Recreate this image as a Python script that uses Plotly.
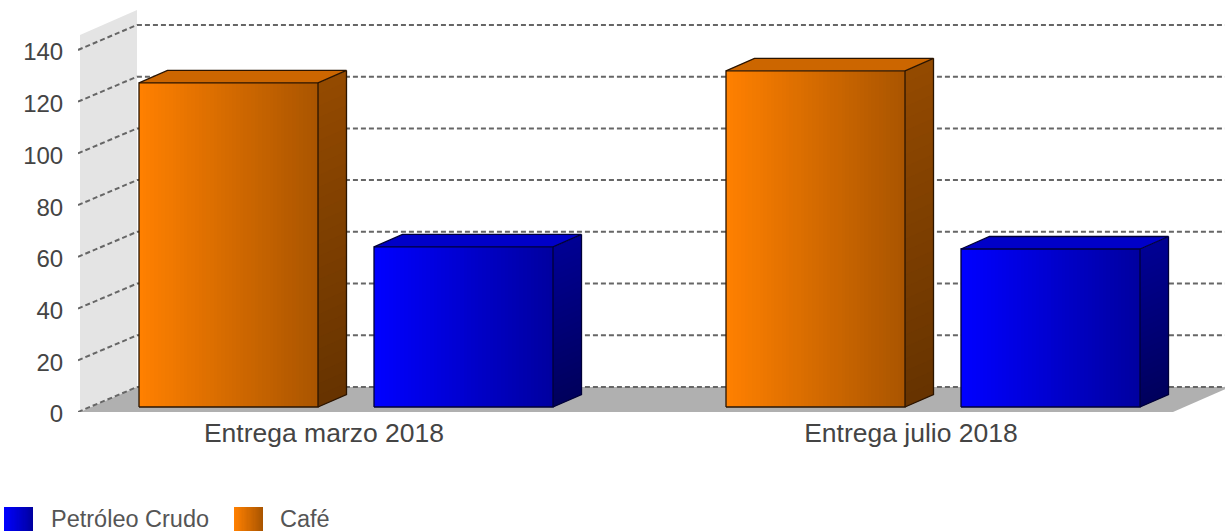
import plotly.graph_objects as go

categories = ["Entrega marzo 2018", "Entrega julio 2018"]
cafe = [125.3, 130.0]
petroleo = [61.9, 61.1]
y_ticks = [0, 20, 40, 60, 80, 100, 120, 140]
legend_names = ["Petróleo Crudo", "Café"]

W, H = 1225, 531
PX_PER_CAT = 587.0
PX_PER_VAL = 2.586
CENTER0 = 346.0
XR = [(78 - CENTER0) / PX_PER_CAT, (W - CENTER0) / PX_PER_CAT]
YR = [0, 412 / PX_PER_VAL]
DX = 57 / PX_PER_CAT      # full depth in category units
DY = 25 / PX_PER_VAL      # full depth in value units
WALL_X = (80 - CENTER0) / PX_PER_CAT
FLOOR_R = (1173 - CENTER0) / PX_PER_CAT
WALL_TOP = 145.8
BAR_W = 179 / PX_PER_CAT
BAR_GAP = 56 / PX_PER_CAT
D0, D1 = 0.2, 0.7

ORANGE = dict(f0=(255, 128, 0), f1=(170, 85, 0), top="#cc6600", s0=(148, 74, 0), s1=(102, 51, 0), line="#2a1400")
BLUE = dict(f0=(0, 0, 255), f1=(0, 0, 160), top="#0000c8", s0=(0, 0, 148), s1=(0, 0, 92), line="#000038")


def rgb(c):
    return "rgb(%d,%d,%d)" % c


def mix(a, b, t):
    return tuple(round(a[i] + (b[i] - a[i]) * t) for i in range(3))


def poly(xs, ys, color, ax="x2", ay="y2"):
    return go.Scatter(x=xs, y=ys, mode="lines", fill="toself", fillcolor=color,
                      line=dict(width=0), xaxis=ax, yaxis=ay,
                      hoverinfo="skip", showlegend=False)


def hgrad(x0, x1, y0, y1, pal, ax, ay, name, n=48):
    xs = [x0 + (x1 - x0) * i / n for i in range(n + 1)]
    z = [[i / (n - 1) for i in range(n)]]
    return go.Heatmap(x=xs, y=[y0, y1], z=z, zmin=0, zmax=1, showscale=False,
                      colorscale=[[0, rgb(pal["f0"])], [1, rgb(pal["f1"])]],
                      xaxis=ax, yaxis=ay, hoverinfo="skip", name=name)


fig = go.Figure()

# wall and floor
fig.add_trace(poly([WALL_X, WALL_X + DX, WALL_X + DX, WALL_X], [0, DY, WALL_TOP + DY, WALL_TOP],
                   "#e4e4e4", "x", "y"))
fig.add_trace(poly([WALL_X, WALL_X + DX, FLOOR_R + DX, FLOOR_R], [0, DY, DY, 0], "#b0b0b0", "x", "y"))

# grid lines follow the wall and the back plane
for v in y_ticks:
    fig.add_trace(go.Scatter(x=[XR[0], WALL_X + DX, XR[1]], y=[v, v + DY, v + DY], mode="lines",
                             line=dict(color="#666666", width=2, dash="5px,3px"),
                             hoverinfo="skip", showlegend=False))


def bar(x0, v, pal, name):
    x1 = x0 + BAR_W
    base = D0 * DY
    top = base + v
    ddx, ddy = (D1 - D0) * DX, (D1 - D0) * DY
    fig.add_trace(hgrad(x0, x1, base, top, pal, "x2", "y2", name))
    n = 28
    for i in range(n):
        a = top - v * i / n
        b = base if i == n - 1 else top - v * (i + 2) / n
        c = rgb(mix(pal["s0"], pal["s1"], (i + 0.5) / n))
        fig.add_trace(poly([x1, x1 + ddx, x1 + ddx, x1], [a, a + ddy, b + ddy, b], c))
    fig.add_trace(poly([x0, x0 + ddx, x1 + ddx, x1], [top, top + ddy, top + ddy, top], pal["top"]))
    # edges: front rectangle, then the top and side outlines
    fig.add_trace(go.Scatter(
        x=[x0, x1, x1, x0, x0, None, x0, x0 + ddx, x1 + ddx, x1, None, x1 + ddx, x1 + ddx, x1],
        y=[base, base, top, top, base, None, top, top + ddy, top + ddy, top, None, top + ddy, base + ddy, base],
        mode="lines", line=dict(color=pal["line"], width=1.3), xaxis="x2", yaxis="y2",
        hoverinfo="skip", showlegend=False))


for i, cat in enumerate(categories):
    bar(i - BAR_W - BAR_GAP / 2, cafe[i], ORANGE, "Café")
    bar(i + BAR_GAP / 2, petroleo[i], BLUE, "Petróleo Crudo")

# legend
swatches = [(4, 33, 49, BLUE), (234, 263, 278, ORANGE)]
for (a, b, tx, pal), name in zip(swatches, legend_names):
    fig.add_trace(hgrad(a, b, 507, 535, pal, "x3", "y3", name, n=24))
    fig.add_annotation(x=tx, y=518.5, xref="x3", yref="y3", text=name, showarrow=False,
                       xanchor="left", yanchor="middle", font=dict(size=23.5, color="#555555"))

fig.update_layout(
    width=W, height=H, autosize=False, margin=dict(l=0, r=0, t=0, b=0, pad=0),
    paper_bgcolor="white", plot_bgcolor="rgba(0,0,0,0)", showlegend=False,
    font=dict(family="Liberation Sans, Arial, sans-serif", color="#444444"),
    xaxis=dict(domain=[78 / W, 1], range=XR, showgrid=False, zeroline=False, showline=False,
               automargin=False,
               tickmode="array", tickvals=[i - 0.0375 for i in range(len(categories))],
               ticktext=categories, tickfont=dict(size=26.5, color="#444444"),
               ticks="", ticklabelstandoff=2),
    yaxis=dict(domain=[119 / H, 1], range=YR, showgrid=False, zeroline=False, showline=False,
               automargin=False,
               tickmode="array", tickvals=y_ticks, ticktext=[str(v) for v in y_ticks],
               tickfont=dict(size=24, color="#444444"),
               ticks="outside", ticklen=9, tickcolor="rgba(0,0,0,0)", ticklabelshift=2),
    xaxis2=dict(overlaying="x", range=XR, visible=False, automargin=False),
    yaxis2=dict(overlaying="y", range=YR, visible=False, automargin=False),
    xaxis3=dict(domain=[0, 1], range=[0, W], visible=False, anchor="y3", automargin=False),
    yaxis3=dict(domain=[0, 1], range=[H, 0], visible=False, anchor="x3", automargin=False),
)

fig.write_html("out.html", config=dict(displayModeBar=False),
               post_script="document.body.style.margin='0';document.body.style.overflow='hidden';window.scrollTo(0,0);")
